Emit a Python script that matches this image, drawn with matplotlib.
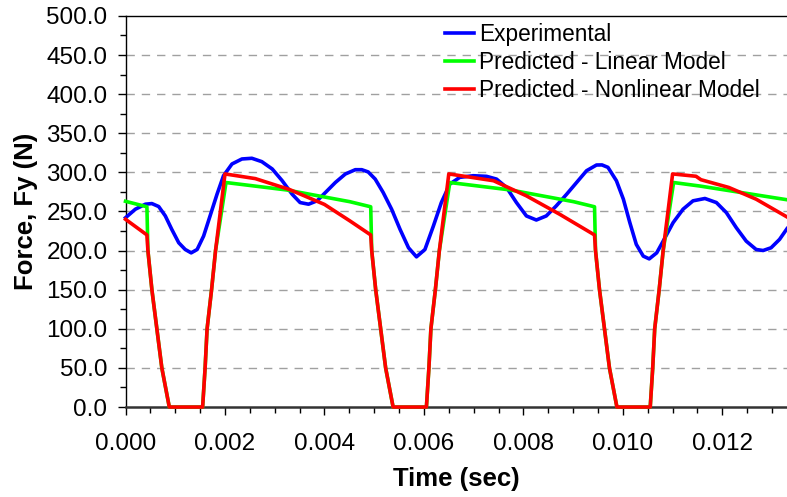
import matplotlib
matplotlib.use('Agg')
import matplotlib.pyplot as plt
from matplotlib.ticker import MultipleLocator, FormatStrFormatter

plt.rcParams['font.family'] = ['Liberation Sans', 'DejaVu Sans']

# experimental force
t_exp = [0.0, 0.000198, 0.0004, 0.00053, 0.000667, 0.0008, 0.00093, 0.00107, 0.0012,
         0.00132, 0.00144, 0.00157, 0.0017, 0.00184, 0.00197, 0.00214, 0.00234, 0.00254,
         0.00274, 0.00295, 0.00315, 0.00335, 0.00351, 0.00368, 0.00385, 0.00402, 0.00422,
         0.00442, 0.00462, 0.00475, 0.00488, 0.00502, 0.00518, 0.00535, 0.00552, 0.00569,
         0.00585, 0.00602, 0.00619, 0.00635, 0.00652, 0.00672, 0.00699, 0.00726, 0.00746,
         0.00766, 0.00786, 0.00806, 0.00826, 0.00846, 0.00866, 0.00887, 0.00907, 0.00927,
         0.00947, 0.00958, 0.0097, 0.00987, 0.01001, 0.01014, 0.01027, 0.01041, 0.01053,
         0.01068, 0.01081, 0.01101, 0.01121, 0.01141, 0.01165, 0.01188, 0.01208, 0.01228,
         0.01248, 0.01268, 0.01282, 0.01298, 0.01315, 0.0133]
f_exp = [242, 252.9, 259.3, 260.1, 256.3, 244.3, 227.1, 210, 201.4,
         197.1, 201.4, 218.6, 244.3, 272.1, 295.7, 310.7, 317.1, 318,
         313.7, 304.3, 289.3, 272.1, 261.4, 259.3, 263.6, 274.3, 287.1,
         297.9, 303.4, 303.4, 300.5, 291.4, 274.3, 252.9, 227.1, 203.6,
         192, 201.4, 231.4, 261.4, 285, 293.6, 295.7, 294.9, 291.4,
         280.7, 261.4, 244.3, 239.1, 244.3, 257.1, 272.1, 287.1, 302.1,
         309.4, 309.5, 306.4, 289.3, 265.7, 235.7, 207.9, 192.9, 189.4,
         197.1, 212.1, 235.7, 252.9, 263.6, 266.6, 261.4, 248.6, 229.3,
         212.1, 201.4, 200.1, 203.6, 214.3, 228]

# linear model
t_lin = [0.0, 0.00043, 0.00045, 0.00053, 0.00063, 0.00073, 0.00088, 0.00155, 0.0016,
         0.00164, 0.00173, 0.00181, 0.00202, 0.00324, 0.00451, 0.00493, 0.00495, 0.00503,
         0.00513, 0.00523, 0.00538, 0.00605, 0.0061, 0.00614, 0.00623, 0.00631, 0.00652,
         0.00774, 0.00901, 0.00943, 0.00945, 0.00953, 0.00963, 0.00973, 0.00988, 0.01055,
         0.0106, 0.01064, 0.01073, 0.01081, 0.01102, 0.01155, 0.0133]
f_lin = [263, 256, 200, 150, 100, 50, 0, 0, 50,
         100, 150, 200, 287, 277.5, 262.5, 256, 200, 150,
         100, 50, 0, 0, 50, 100, 150, 200, 287,
         277.5, 262.5, 256, 200, 150, 100, 50, 0, 0,
         50, 100, 150, 200, 287, 282.5, 265]

# nonlinear model
t_nl = [0.0, 0.00043, 0.00045, 0.00053, 0.00063, 0.00073, 0.00088, 0.00155, 0.0016,
        0.00164, 0.00173, 0.00181, 0.002, 0.00261, 0.0033, 0.004, 0.00451, 0.00493,
        0.00495, 0.00503, 0.00513, 0.00523, 0.00538, 0.00605, 0.0061, 0.00614, 0.00623,
        0.00631, 0.0065, 0.0074, 0.00806, 0.00873, 0.00943, 0.00945, 0.00953,
        0.00963, 0.00973, 0.00988, 0.01055, 0.0106, 0.01064, 0.01073, 0.01081, 0.011,
        0.01147, 0.01157, 0.01213, 0.01268, 0.0133]
f_nl = [240, 220, 200, 150, 100, 50, 0, 0, 50,
        100, 150, 200, 298, 292, 278, 259, 238, 220,
        200, 150, 100, 50, 0, 0, 50, 100, 150,
        200, 298, 289.3, 270, 246.4, 220, 200, 150,
        100, 50, 0, 0, 50, 100, 150, 200, 298,
        295, 290.6, 280.7, 265.7, 243]

fig = plt.figure(figsize=(7.87, 4.97), dpi=100)
ax = fig.add_axes([0.1595, 0.181, 0.8405, 0.787])

ax.plot(t_exp, f_exp, color='#0000FF', lw=2.6, label='Experimental', clip_on=False, zorder=3)
ax.plot(t_lin, f_lin, color='#00FF00', lw=2.6, label='Predicted - Linear Model', clip_on=False, zorder=4)
ax.plot(t_nl, f_nl, color='#FF0000', lw=2.6, label='Predicted - Nonlinear Model', clip_on=False, zorder=5)

ax.set_xlim(0, 0.0133)
ax.set_ylim(0, 500)
ax.xaxis.set_major_locator(MultipleLocator(0.002))
ax.xaxis.set_minor_locator(MultipleLocator(0.0005))
ax.yaxis.set_major_locator(MultipleLocator(50))
ax.yaxis.set_minor_locator(MultipleLocator(25))
ax.xaxis.set_major_formatter(FormatStrFormatter('%.3f'))
ax.yaxis.set_major_formatter(FormatStrFormatter('%.1f'))

for v in range(50, 500, 50):
    ax.axhline(v, color='#A0A0A0', lw=1.0, ls=(0, (6, 5)), zorder=1)

ax.spines['right'].set_visible(False)
ax.spines['top'].set_linewidth(1.0)
ax.spines['left'].set_linewidth(1.0)
ax.spines['bottom'].set_linewidth(1.8)
ax.spines['bottom'].set_color('#333333')

ax.tick_params(axis='both', which='major', direction='out', length=6, width=1, labelsize=17.5)
ax.tick_params(axis='both', which='minor', direction='out', length=4.5, width=1)
ax.tick_params(axis='y', which='major', pad=7)
ax.tick_params(axis='x', which='major', pad=13)

ax.set_xlabel('Time (sec)', fontsize=18.5, fontweight='bold', labelpad=8)
ax.set_ylabel('Force, Fy (N)', fontsize=18.5, fontweight='bold', labelpad=6)

ax.legend(loc='upper left', bbox_to_anchor=(0.469, 1.005), frameon=False, fontsize=16.3,
          handlelength=1.3, handletextpad=0.22, labelspacing=0.21, borderaxespad=0)

fig.savefig('out.png', dpi=100)
